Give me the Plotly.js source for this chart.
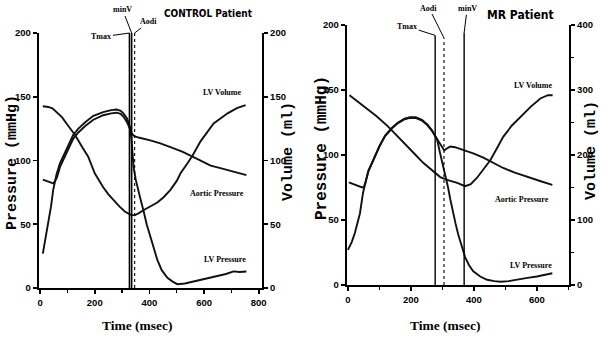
<!DOCTYPE html>
<html>
<head>
<meta charset="utf-8">
<script src="https://cdn.plot.ly/plotly-3.0.1.min.js"></script>
<style>html,body{margin:0;padding:0;background:#fff;} #chart{width:601px;height:337px;}</style>
</head>
<body>
<div id="chart"></div>
<script>
// ---------- CONTROL patient ----------
const ctrlTimeLVP = [10,20,30,40,48,60,73,90,105,121,140,165,195,231,260,280,295,305,318,328,334,338,342,350,356,367,378,390,404,416,429,445,466,485,502,530,561,600,640,680,708,730,755];
const ctrlLVP     = [27,39,51,64,77,89,98,106,113,120,125,130,135,138,139.5,140,139,137,133,127,118,106,95,85,79,70,61,50,40,31,22,14,8,5,3,3.5,5,7,9,11,13,12.5,13];
const ctrlTimeAo  = [10,25,40,48,55,62,73,90,105,121,140,165,195,231,260,280,295,305,318,328,336,345,360,400,440,477,520,558,590,624,660,700,730,755];
const ctrlAo      = [85,84,82.5,82,84,87,95,103,110,117,122,127,132,135.5,137,137.5,136.5,134.5,130,125,121,119,118,116,113.5,110.5,107,103,99.5,96,94,91.5,90,88.5];
const ctrlTimeVol = [10,30,45,60,80,100,128,150,176,200,231,250,268,290,310,330,345,360,378,400,429,451,477,500,514,540,558,587,610,635,660,686,720,752];
const ctrlVol     = [142.5,142,141,138,134,128,120,112,103,90,79,73.5,69,64,60,57.5,57,58.5,61,63.5,67,71,77,84,90,98,104,115,122,129,133,137,141,143.5];
const ctrlEvents  = {Tmax: 327, minV: 335, Aodi: 346};

// ---------- MR patient ----------
const mrTimeLVP = [0,12,22,30,38,48,54,65,80,100,118,140,159,180,197,215,235,252,267,277,283,292,302,310,318,325,334,342,350,358,366,372,385,398,420,442,465,484,510,540,570,600,630,649];
const mrLVP     = [27,33,40,47,55,71,78,88,96,107,115,121,125,128,129,129,127,123.5,119,115,112,102,92,84,75,66,55,47,39,32,26,21.5,15,10.5,6.5,4,3,2.5,3,4.5,5.5,6.5,8,9];
const mrTimeAo  = [3,25,45,50,54,65,80,100,118,140,159,180,197,215,235,252,267,277,283,293,300,306,314,325,340,366,400,430,460,493,530,570,610,649];
const mrAo      = [79,77,75,75.5,77.5,87.5,95.5,106.5,114.5,120.5,124.5,127.5,128.5,128.5,126.5,123,118.5,114.5,112,109,106,103.5,105,106.5,106,104,101,98,94,90,86.5,83,80,77];
const mrTimeVol = [5,30,60,90,127,160,188,215,239,265,293,320,347,372,390,410,430,452,475,493,520,547,580,611,635,650];
const mrVol     = [292,283,272,260,244,228,213,200,188,177,166,161,157,152,155,165,178,192,212,228,245,258,274,287,292,292];
const mrEvents  = {Tmax: 277, Aodi: 305, minV: 369};

// tick labels
const ctrlTimeTicks = [0,200,400,600,800];
const mrTimeTicks   = [0,200,400,600];
const pressureTicks = [0,50,100,150,200];
const ctrlVolTicks  = [0,50,100,150,200];
const mrVolTicks    = [0,100,200,300,400];

const W = 601, H = 337;
const px = x => x / W;
const py = y => 1 - y / H;
const bold = v => '<b>' + v + '</b>';

const tickFont = {family: "Liberation Sans, Arial, sans-serif", size: 9.5, color: '#000'};
const lineStyle = {color: '#111', width: 1.9};

function axisBase(extra) {
  return Object.assign({
    showline: true, linecolor: '#000', linewidth: 2.2,
    ticks: 'outside', ticklen: 4, tickwidth: 1.6, tickcolor: '#000',
    showgrid: false, zeroline: false, tickfont: tickFont, fixedrange: true
  }, extra);
}

const traces = [
  {x: ctrlTimeVol, y: ctrlVol, xaxis: 'x', yaxis: 'y2', mode: 'lines', line: lineStyle, name: 'LV Volume'},
  {x: ctrlTimeLVP, y: ctrlLVP, xaxis: 'x', yaxis: 'y', mode: 'lines', line: lineStyle, name: 'LV Pressure'},
  {x: ctrlTimeAo,  y: ctrlAo,  xaxis: 'x', yaxis: 'y', mode: 'lines', line: lineStyle, name: 'Aortic Pressure'},
  {x: mrTimeVol, y: mrVol, xaxis: 'x2', yaxis: 'y4', mode: 'lines', line: lineStyle, name: 'LV Volume'},
  {x: mrTimeLVP, y: mrLVP, xaxis: 'x2', yaxis: 'y3', mode: 'lines', line: lineStyle, name: 'LV Pressure'},
  {x: mrTimeAo,  y: mrAo,  xaxis: 'x2', yaxis: 'y3', mode: 'lines', line: lineStyle, name: 'Aortic Pressure'}
];

function vline(xref, yref, x, top, dash, width) {
  return {type: 'line', xref, yref, x0: x, x1: x, y0: 0, y1: top,
          line: {color: '#000', width: width, dash: dash}};
}
const shapes = [
  vline('x', 'y', ctrlEvents.Tmax, 200, 'solid', 1.6),
  vline('x', 'y', ctrlEvents.minV, 200, 'solid', 1.6),
  vline('x', 'y', ctrlEvents.Aodi, 200, 'dot', 1.1),
  vline('x2', 'y3', mrEvents.Tmax, 192, 'solid', 1.4),
  vline('x2', 'y3', mrEvents.Aodi, 190, 'dot', 1.1),
  vline('x2', 'y3', mrEvents.minV, 194, 'solid', 1.4)
];

const labelFont = {family: "Liberation Serif, Times New Roman, serif", size: 8, color: '#000'};
const titleFont = {family: "DejaVu Sans Condensed, sans-serif", color: '#000'};
const axTitleFont = {family: "Liberation Mono, Courier New, monospace", size: 15, color: '#000'};
const timeFont = {family: "Liberation Serif, serif", size: 13.5, color: '#000'};

function txt(x, y, text, font, extra) {
  return Object.assign({xref: 'paper', yref: 'paper', x: px(x), y: py(y), text: bold(text), showarrow: false,
                        font, xanchor: 'center', yanchor: 'middle'}, extra || {});
}
function pointer(xref, yref, x, y, text, ax, ay) {
  return {xref, yref, x, y, text: bold(text), showarrow: true, arrowhead: 0, arrowwidth: 1, arrowcolor: '#000',
          ax, ay, standoff: 0, font: labelFont};
}

const annotations = [
  txt(208, 13, 'CONTROL Patient', Object.assign({size: 10}, titleFont)),
  txt(520, 15, 'MR Patient', Object.assign({size: 12}, titleFont)),
  txt(222, 92, 'LV Volume', labelFont),
  txt(217, 193, 'Aortic Pressure', labelFont),
  txt(225, 259, 'LV Pressure', labelFont),
  txt(533, 86, 'LV Volume', labelFont),
  txt(522, 199, 'Aortic Pressure', labelFont),
  txt(531, 265, 'LV Pressure', labelFont),
  txt(13, 163, 'Pressure (mmHg)', axTitleFont, {textangle: -90}),
  txt(288, 152, 'Volume (ml)', axTitleFont, {textangle: -90}),
  txt(322, 148, 'Pressure (mmHg)', Object.assign({}, axTitleFont, {size: 16}), {textangle: -90}),
  txt(591, 151, 'Volume (ml)', axTitleFont, {textangle: -90}),
  txt(137, 325, 'Time (msec)', timeFont),
  txt(445, 325, 'Time (msec)', timeFont),
  pointer('x', 'y', ctrlEvents.Tmax, 200, 'Tmax', -28, 4),
  pointer('x', 'y', ctrlEvents.minV, 200, 'minV', -9, -23),
  pointer('x', 'y', ctrlEvents.Aodi, 200, 'Aodi', 14, -11),
  pointer('x2', 'y3', mrEvents.Tmax, 192, 'Tmax', -28, -9),
  pointer('x2', 'y3', mrEvents.Aodi, 190, 'Aodi', -15, -30),
  pointer('x2', 'y3', mrEvents.minV, 194, 'minV', 3, -24)
];

const minorX = {dtick: 100, tick0: 0, ticks: 'outside', ticklen: 3, tickwidth: 1.4, tickcolor: '#000'};

const layout = {
  width: W, height: H,
  margin: {l: 0, r: 0, t: 0, b: 0},
  paper_bgcolor: '#fff', plot_bgcolor: 'rgba(0,0,0,0)',
  showlegend: false,
  xaxis: axisBase({domain: [px(39), px(262)], range: [-4, 812], anchor: 'y',
                   tickvals: ctrlTimeTicks, ticktext: ctrlTimeTicks.map(bold), minor: minorX}),
  yaxis: axisBase({domain: [py(288), py(33)], range: [0, 200], anchor: 'x',
                   tickvals: pressureTicks, ticktext: pressureTicks.map(bold)}),
  yaxis2: axisBase({overlaying: 'y', side: 'right', anchor: 'x', range: [0, 200],
                    tickvals: ctrlVolTicks, ticktext: ctrlVolTicks.map(bold)}),
  xaxis2: axisBase({domain: [px(347), px(569)], range: [-3, 702], anchor: 'y3',
                    tickvals: mrTimeTicks, ticktext: mrTimeTicks.map(bold), minor: minorX}),
  yaxis3: axisBase({domain: [py(285), py(25)], range: [0, 200], anchor: 'x2',
                    tickvals: pressureTicks, ticktext: pressureTicks.map(bold)}),
  yaxis4: axisBase({overlaying: 'y3', side: 'right', anchor: 'x2', range: [0, 400],
                    tickvals: mrVolTicks, ticktext: mrVolTicks.map(bold),
                    minor: {dtick: 50, tick0: 0, ticks: 'outside', ticklen: 3, tickwidth: 1.4, tickcolor: '#000'}}),
  shapes, annotations
};

Plotly.newPlot('chart', traces, layout, {staticPlot: true, displayModeBar: false});
</script>
</body>
</html>
